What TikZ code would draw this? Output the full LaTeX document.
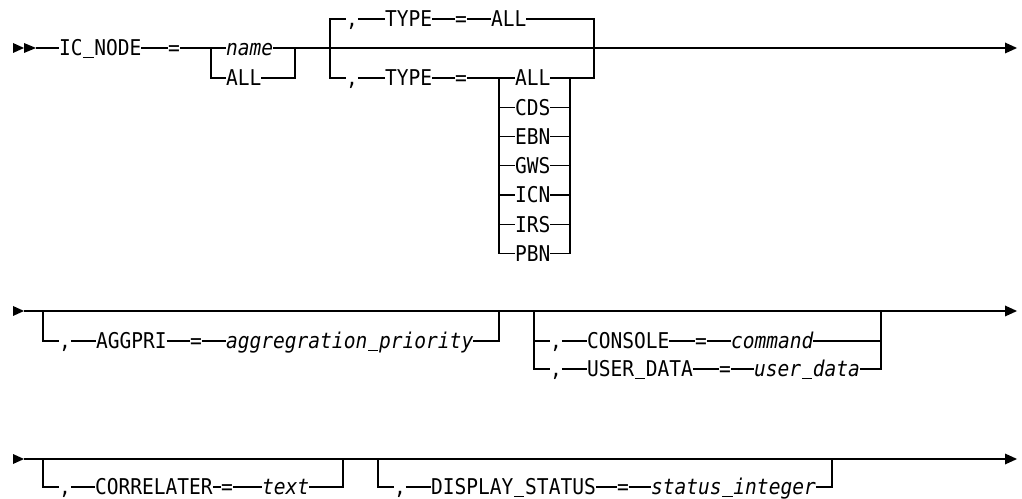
\documentclass[tikz,border=0pt]{standalone}
\usepackage{fontspec}
\setmainfont[FakeStretch=0.9]{DejaVu Sans Mono}
\newcommand{\usc}{\makebox[0.5418em][c]{\rule[-1.5pt]{0.47em}{0.85pt}}}
\begin{document}
\begin{tikzpicture}[x=0.75pt,y=-0.75pt,
  lbl/.style={anchor=west,inner xsep=0pt,inner ysep=0pt,outer sep=0pt,
    text height=11.9pt,text depth=0pt,font=\fontsize{16.3pt}{19pt}\selectfont},
  var/.style={lbl,font=\fontsize{16.3pt}{19pt}\selectfont\itshape},
  rr/.style={line width=0.95pt,black},
  tip/.style={fill=black}]
\useasboundingbox (0,0) rectangle (1022,499);

% ---------------- Row 1 ----------------
\fill[tip] (13,43) -- (24,48) -- (13,53) -- cycle;
\fill[tip] (24,43) -- (36,48) -- (24,53) -- cycle;
\coordinate (st1) at (36,48);
\node[lbl] (icnode) at (59,48) {IC\usc NODE};
\node[lbl] (eq1) at (168,48) {=};
\coordinate (ra) at (211,48);
\coordinate (rb) at (295,48);
\node[var] (name) at (226,48) {name};
\node[lbl] (all1) at (226,78) {ALL};
\draw[rr] (st1) -- (icnode.west);
\draw[rr] (icnode.east) -- (eq1.west);
\draw[rr] (eq1.east) -- (name.west);
\draw[rr] (ra) |- (all1.west);
\draw[rr] (name.east) -- (rb);
\draw[rr] (all1.east) -| (rb);
\coordinate (b2l) at (330,48);
\coordinate (b2r) at (594,48);
\coordinate (en1) at (1005,48);
\draw[rr] (rb) -- (en1);
\fill[tip] (1005,42.5) -- (1017,48) -- (1005,53.5) -- cycle;
% default row
\node[lbl] (c2) at (346,19) {,};
\node[lbl] (type1) at (385,19) {TYPE};
\node[lbl] (eq2) at (455,19) {=};
\node[lbl] (all2) at (491,19) {ALL};
\draw[rr] (b2l) |- (c2.west);
\draw[rr] (c2.east) -- (type1.west);
\draw[rr] (type1.east) -- (eq2.west);
\draw[rr] (eq2.east) -- (all2.west);
\draw[rr] (all2.east) -| (b2r);
% choice row
\node[lbl] (c3) at (346,78) {,};
\node[lbl] (type2) at (385,78) {TYPE};
\node[lbl] (eq3) at (455,78) {=};
\draw[rr] (b2l) |- (c3.west);
\draw[rr] (c3.east) -- (type2.west);
\draw[rr] (type2.east) -- (eq3.west);
\coordinate (il) at (499,78);
\coordinate (ir) at (570,78);
\node[lbl] (tall) at (515,78) {ALL};
\node[lbl] (tcds) at (515,107.25) {CDS};
\node[lbl] (tebn) at (515,136.5) {EBN};
\node[lbl] (tgws) at (515,165.75) {GWS};
\node[lbl] (ticn) at (515,195) {ICN};
\node[lbl] (tirs) at (515,224.25) {IRS};
\node[lbl] (tpbn) at (515,253.5) {PBN};
\draw[rr] (eq3.east) -- (tall.west);
\draw[rr] (tall.east) -- (ir) -| (b2r);
\foreach \n in {tcds,tebn,tgws,ticn,tirs,tpbn}{
  \draw[rr] (il) |- (\n.west);
  \draw[rr] (\n.east) -| (ir);
}

% ---------------- Row 2 ----------------
\fill[tip] (13,306) -- (24,311) -- (13,316) -- cycle;
\coordinate (st2) at (24,311);
\coordinate (en2) at (1005,311);
\draw[rr] (st2) -- (en2);
\fill[tip] (1005,305.5) -- (1017,311) -- (1005,316.5) -- cycle;
\coordinate (al) at (43,311);
\coordinate (ar) at (499,311);
\node[lbl] (cA) at (59,341) {,};
\node[lbl] (aggpri) at (96,341) {AGGPRI};
\node[lbl] (eqA) at (190,341) {=};
\node[var] (aggval) at (226,341) {aggregration\usc priority};
\draw[rr] (al) |- (cA.west);
\draw[rr] (cA.east) -- (aggpri.west);
\draw[rr] (aggpri.east) -- (eqA.west);
\draw[rr] (eqA.east) -- (aggval.west);
\draw[rr] (aggval.east) -| (ar);
\coordinate (bl) at (534,311);
\coordinate (br) at (881,311);
\node[lbl] (cB1) at (550,341) {,};
\node[lbl] (console) at (587,341) {CONSOLE};
\node[lbl] (eqB1) at (695,341) {=};
\node[var] (command) at (731,341) {command};
\draw[rr] (bl) |- (cB1.west);
\draw[rr] (cB1.east) -- (console.west);
\draw[rr] (console.east) -- (eqB1.west);
\draw[rr] (eqB1.east) -- (command.west);
\draw[rr] (command.east) -| (br);
\node[lbl] (cB2) at (550,369) {,};
\node[lbl] (userdata) at (587,369) {USER\usc DATA};
\node[lbl] (eqB2) at (719,369) {=};
\node[var] (userval) at (754,369) {user\usc data};
\draw[rr] (bl) |- (cB2.west);
\draw[rr] (cB2.east) -- (userdata.west);
\draw[rr] (userdata.east) -- (eqB2.west);
\draw[rr] (eqB2.east) -- (userval.west);
\draw[rr] (userval.east) -| (br);

% ---------------- Row 3 ----------------
\fill[tip] (13,454) -- (24,459) -- (13,464) -- cycle;
\coordinate (st3) at (24,459);
\coordinate (en3) at (1005,459);
\draw[rr] (st3) -- (en3);
\fill[tip] (1005,453.5) -- (1017,459) -- (1005,464.5) -- cycle;
\coordinate (cl) at (43,459);
\coordinate (cr) at (343,459);
\node[lbl] (cC) at (59,487) {,};
\node[lbl] (correl) at (95,487) {CORRELATER};
\node[lbl] (eqC) at (221,487) {=};
\node[var] (textv) at (262,487) {text};
\draw[rr] (cl) |- (cC.west);
\draw[rr] (cC.east) -- (correl.west);
\draw[rr] (correl.east) -- (eqC.west);
\draw[rr] (eqC.east) -- (textv.west);
\draw[rr] (textv.east) -| (cr);
\coordinate (dl) at (378,459);
\coordinate (dr) at (832,459);
\node[lbl] (cD) at (394,487) {,};
\node[lbl] (disp) at (431,487) {DISPLAY\usc STATUS};
\node[lbl] (eqD) at (617,487) {=};
\node[var] (statusv) at (651,487) {status\usc integer};
\draw[rr] (dl) |- (cD.west);
\draw[rr] (cD.east) -- (disp.west);
\draw[rr] (disp.east) -- (eqD.west);
\draw[rr] (eqD.east) -- (statusv.west);
\draw[rr] (statusv.east) -| (dr);
\end{tikzpicture}
\end{document}
